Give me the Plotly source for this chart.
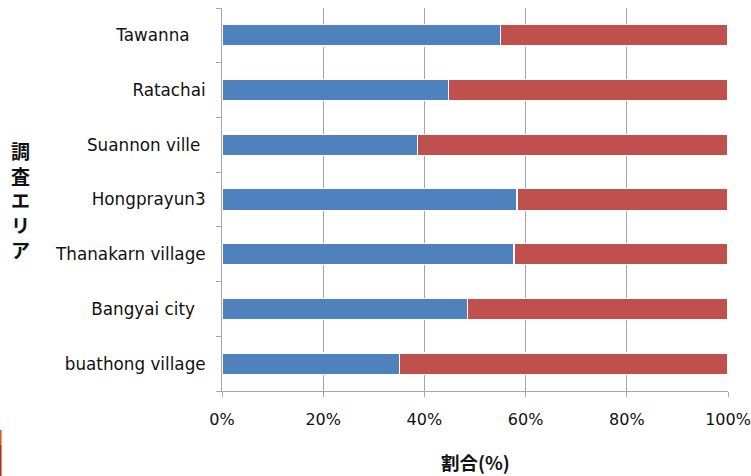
import plotly.graph_objects as go

categories = ["buathong village", "Bangyai city  ", "Thanakarn village", "Hongprayun3",
              "Suannon ville ", "Ratachai", "Tawanna   "]
blue_vals = [35.1, 48.5, 57.7, 58.3, 38.7, 44.7, 55.1]
red_vals = [100 - v for v in blue_vals]
x_ticks = [0, 20, 40, 60, 80, 100]
x_ticklabels = ["0%", "20%", "40%", "60%", "80%", "100%"]

fig = go.Figure()
fig.add_trace(go.Bar(y=categories, x=blue_vals, orientation="h",
                     marker=dict(color="#4F81BD", line=dict(color="white", width=1.2)),
                     showlegend=False))
fig.add_trace(go.Bar(y=categories, x=red_vals, orientation="h",
                     marker=dict(color="#C0504D", line=dict(color="white", width=1.2)),
                     showlegend=False))

font_lab = "DejaVu Sans, Liberation Sans, sans-serif"
font_jp = "Noto Sans CJK JP, sans-serif"
fig.update_layout(
    barmode="stack", bargap=0.61,
    width=751, height=476,
    margin=dict(l=222, r=23, t=8, b=85, autoexpand=False),
    plot_bgcolor="white", paper_bgcolor="white",
    font=dict(family=font_lab, size=16, color="#111111"),
    xaxis=dict(range=[0, 100], tickvals=x_ticks, ticktext=x_ticklabels,
               showgrid=True, gridcolor="#A6A6A6", gridwidth=1,
               showline=True, linecolor="#A6A6A6", linewidth=1,
               ticks="outside", ticklen=5, tickcolor="#A6A6A6",
               ticklabelstandoff=9,
               tickfont=dict(size=16), zeroline=False, fixedrange=True,
               automargin=False),
    yaxis=dict(showline=True, linecolor="#A6A6A6", linewidth=1,
               ticks="outside", ticklen=5, tickcolor="#A6A6A6",
               tickson="boundaries", ticklabelstandoff=12,
               tickfont=dict(size=16.8), fixedrange=True, automargin=False),
)

fig.add_annotation(text="割合(%)", xref="paper", yref="paper", x=0.5, y=-0.186,
                   xanchor="center", yanchor="middle", showarrow=False,
                   font=dict(size=18.5, family=font_jp, color="#111111", weight="bold"))
fig.add_annotation(text="調<br>査<br>エ<br>リ<br>ア", xref="paper", yref="paper",
                   x=-0.398, y=0.5, xanchor="center", yanchor="middle", showarrow=False,
                   font=dict(size=19, family=font_jp, color="#111111", weight="bold"))

# small marker at left edge
fig.add_shape(type="rect", xref="paper", yref="paper", x0=-0.4396, x1=-0.4356,
              y0=-0.14, y1=-0.102, fillcolor="#E05A1E", line=dict(width=0))
fig.add_shape(type="rect", xref="paper", yref="paper", x0=-0.4396, x1=-0.4356,
              y0=-0.23, y1=-0.14, fillcolor="#B43020", line=dict(width=0))

fig.write_html("out.html")
